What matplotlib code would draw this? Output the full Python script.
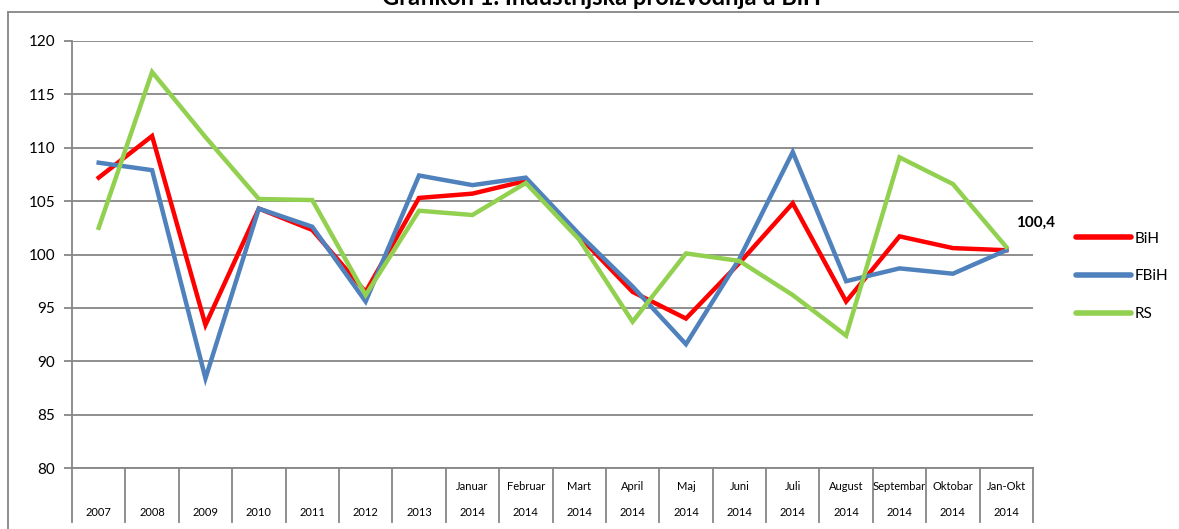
import matplotlib.pyplot as plt
from matplotlib.lines import Line2D
import matplotlib.transforms as mtransforms

plt.rcParams['font.family'] = ['Lato', 'DejaVu Sans']

# data
months = ['', '', '', '', '', '', '', 'Januar', 'Februar', 'Mart', 'April', 'Maj',
          'Juni', 'Juli', 'August', 'Septembar', 'Oktobar', 'Jan-Okt']
years = ['2007', '2008', '2009', '2010', '2011', '2012', '2013', '2014', '2014', '2014',
         '2014', '2014', '2014', '2014', '2014', '2014', '2014', '2014']
bih = [107.2, 111.1, 93.4, 104.3, 102.3, 96.5, 105.3, 105.7, 106.9, 101.7,
       96.5, 94.0, 99.2, 104.8, 95.6, 101.7, 100.6, 100.4]
fbih = [108.6, 107.9, 88.4, 104.3, 102.6, 95.6, 107.4, 106.5, 107.2, 101.9,
        97.0, 91.6, 99.6, 109.6, 97.5, 98.7, 98.2, 100.4]
rs = [102.5, 117.1, 111.0, 105.2, 105.1, 96.2, 104.1, 103.7, 106.7, 101.4,
      93.7, 100.1, 99.4, 96.2, 92.4, 109.1, 106.6, 100.7]
series_names = ['BiH', 'FBiH', 'RS']
colors = ['#FF0000', '#4F81BD', '#92D050']

W, H = 1179, 529
fig = plt.figure(figsize=(W / 100, H / 100), dpi=100)
ax = fig.add_axes([72 / W, 1 - 468 / H, (1033 - 72) / W, (468 - 41) / H])

x = list(range(len(years)))
for vals, c in zip([bih, fbih, rs], colors):
    ax.plot(x, vals, color=c, lw=3.2, solid_joinstyle='miter', zorder=3)

grid_c = '#868686'
ax.set_ylim(80, 120)
ax.set_xlim(-0.5, len(years) - 0.5)
ax.set_yticks(range(80, 121, 5))
ax.yaxis.grid(True, color=grid_c, lw=1.3)
ax.set_axisbelow(True)
for s in ['top', 'right']:
    ax.spines[s].set_visible(False)
for s in ['left', 'bottom']:
    ax.spines[s].set_color(grid_c)
    ax.spines[s].set_linewidth(1.3)
ax.tick_params(axis='y', length=6, width=1.3, color=grid_c, labelsize=11, pad=6)
ax.set_xticks([])

# category axis with two label rows and separators
trans = mtransforms.blended_transform_factory(ax.transData, ax.transAxes)
hpx = 468 - 41
for i in range(len(years) + 1):
    ax.plot([i - 0.5, i - 0.5], [0, -(522 - 468) / hpx], transform=trans,
            color=grid_c, lw=1.3, clip_on=False)
for i in x:
    if months[i]:
        ax.text(i, -(486 - 468) / hpx, months[i], transform=trans, ha='center',
                va='center', fontsize=8)
    ax.text(i, -(513 - 468) / hpx, years[i], transform=trans, ha='center',
            va='center', fontsize=8)

ax.annotate('100,4', xy=(x[-1], bih[-1]), xytext=(7, 20), textcoords='offset points',
            fontsize=11, fontweight='bold', ha='left', va='center')

handles = [Line2D([], [], color=c, lw=4, solid_capstyle='round') for c in colors]
fig.legend(handles, series_names, loc='upper left', bbox_to_anchor=(1068 / W, 1 - 224 / H),
           frameon=False, fontsize=11, handlelength=3.6, handletextpad=0.25,
           labelspacing=1.55, borderpad=0)

# chart border and title
fig.add_artist(Line2D([8 / W, 8 / W], [0, 1 - 11.5 / H], color=grid_c, lw=1.3))
fig.add_artist(Line2D([8 / W, 1], [1 - 11.5 / H, 1 - 11.5 / H], color=grid_c, lw=1.3))
fig.text(602 / W, 1 - 5 / H, 'Grafikon 1. Industrijska proizvodnja u BiH',
         ha='center', va='baseline', fontsize=17, fontweight='bold')

fig.savefig('out.png', dpi=100)
